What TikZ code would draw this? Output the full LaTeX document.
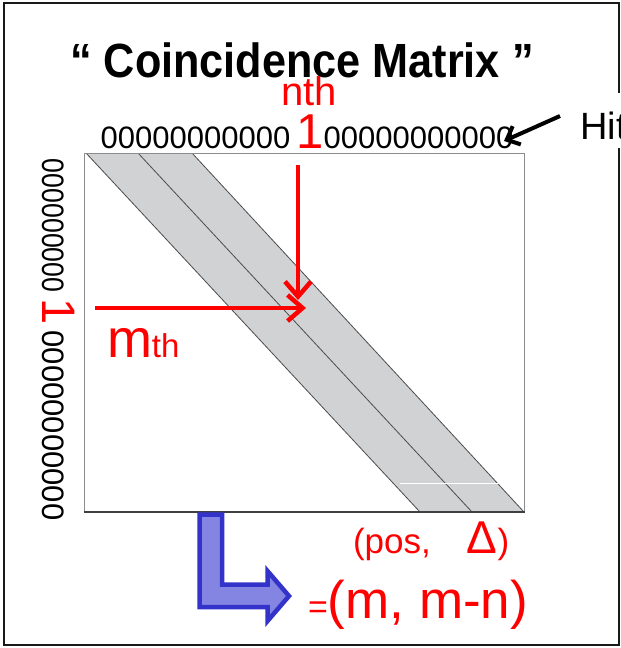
\documentclass[tikz,border=0pt]{standalone}
\usepackage{fontspec}
\setmainfont{Liberation Sans}
\usetikzlibrary{arrows.meta}
\definecolor{bandgray}{HTML}{D1D2D4}
\definecolor{bluefill}{HTML}{8484E2}
\definecolor{bluedraw}{HTML}{3333CC}
\definecolor{redc}{HTML}{FF0000}
\newcommand{\fsz}[1]{\fontsize{#1}{#1}\selectfont}
\begin{document}
\begin{tikzpicture}[x=1pt,y=-1pt,
  txt/.style={inner sep=0pt, outer sep=0pt},
  redarrow/.style={draw=redc, line width=4.5pt, -{Straight Barb[length=15pt,width=26pt]}},
  blackarrow/.style={draw=black, line width=4pt, -{Straight Barb[length=11pt,width=20pt]}},
  bandline/.style={draw=black!70, line width=0.8pt}]
\useasboundingbox (0,0) rectangle (621,648);
\fill[white] (0,0) rectangle (621,648);
% outer frame
\draw[line width=2pt, black!90] (4,3) rectangle (619,645);
% matrix box and diagonal band
\begin{scope}
  \clip (84,153) rectangle (524,512);
  \fill[bandgray] (86,153) -- (192,153) -- (524,512) -- (420,512) -- cycle;
  \draw[bandline] (86,153) -- (420,512) (138,153) -- (472,512) (192,153) -- (524,512);
\end{scope}
\draw[white, line width=0.8pt] (400,483) -- (523,483);
\draw[black!45, line width=1pt] (84,512) -- (84,153) -- (524,153) -- (524,512);
\draw[black!75, line width=1.5pt] (83.5,512) -- (524.5,512);
% title
\node[txt, anchor=base, font=\bfseries\fsz{48}] (title) at (302,77) {\scalebox{0.9}[1]{“ Coincidence Matrix ”}};
% top row
\node[txt, anchor=base, font=\fsz{40}, text=redc] (nth) at (309,105) {nth};
\node[txt, anchor=base west, font=\fsz{31}] (zl) at (100.7,148) {00000000000};
\node[txt, anchor=base west, font=\fsz{49}, text=redc] (onetop) at (296,148) {1};
\node[txt, anchor=base west, font=\fsz{31}] (zr) at (323.7,148) {00000000000};
% Hit label
\node[anchor=base west, font=\fsz{38}, fill=white, inner xsep=2pt, inner ysep=0pt, text height=46pt, text depth=9pt] (hit) at (578,139) {Hit};
\coordinate (hitend) at (560,116);
\coordinate (lastzero) at (504,141);
\draw[blackarrow] (hitend) -- (lastzero);
% left column
\node[txt, rotate=-90, anchor=base west, font=\fsz{31}] (zt) at (42.5,158.9) {\scalebox{0.86}[1]{000000000}};
\node[txt, rotate=-90, anchor=base west, font=\fsz{47}, text=redc] (oneleft) at (42.5,298.5) {1};
\node[txt, rotate=-90, anchor=base west, font=\fsz{31}] (zb) at (42.5,330.7) {00000000000};
% m-th label
\node[txt, anchor=base west, text=redc] (mth) at (107,357) {\fsz{54}m\fsz{33}th};
% red arrows
\coordinate (va) at (298,165);
\coordinate (vb) at (298,300);
\draw[redarrow] (va) -- (vb);
\coordinate (ha) at (95,308);
\coordinate (hb) at (306,308);
\draw[redarrow] (ha) -- (hb);
% blue L arrow
\draw[draw=bluedraw, fill=bluefill, line width=4.5pt]
  (199.5,514.5) -- (222,514.5) -- (222,584.5) -- (267.5,584.5) -- (267.5,571)
  -- (289,596) -- (267.5,621) -- (267.5,607) -- (199.5,607) -- cycle;
% result labels
\node[txt, anchor=base west, text=redc] (pos) at (353,553) {\fsz{35}(pos,\hspace*{36pt}\fsz{46}Δ\fsz{35})};
\node[txt, anchor=base west, text=redc] (eq) at (308,618) {\fsz{34}=\fsz{53}(m, m-n)};
\end{tikzpicture}
\end{document}
